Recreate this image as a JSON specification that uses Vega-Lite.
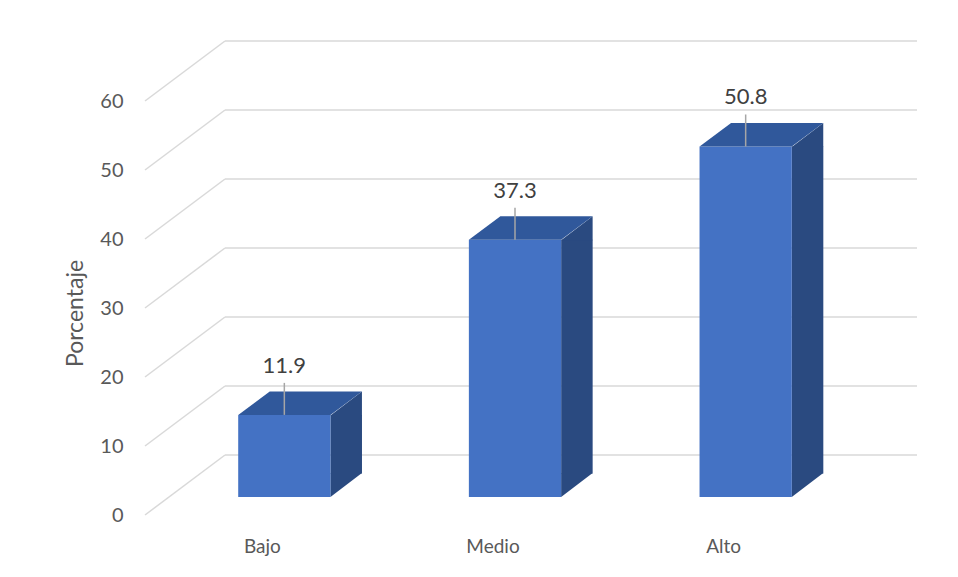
{
  "$schema": "https://vega.github.io/schema/vega-lite/v6.json",
  "width": 692,
  "height": 414,
  "autosize": {"type": "none"},
  "padding": {"left": 169, "top": 83, "right": 97, "bottom": 80},
  "background": "white",
  "config": {
    "view": {"stroke": null},
    "font": "Lato",
    "axis": {
      "labelFont": "Lato",
      "labelFontSize": 20,
      "labelColor": "#595959",
      "titleFont": "Lato",
      "titleFontSize": 23,
      "titleFontWeight": "normal",
      "titleColor": "#595959",
      "domain": false,
      "ticks": false,
      "tickSize": 0,
      "grid": false
    }
  },
  "datasets": {
    "niveles": [
      {"nivel": "Bajo", "porcentaje": 11.9},
      {"nivel": "Medio", "porcentaje": 37.3},
      {"nivel": "Alto", "porcentaje": 50.8}
    ],
    "marcas": [
      {"marca": 0}, {"marca": 10}, {"marca": 20}, {"marca": 30},
      {"marca": 40}, {"marca": 50}, {"marca": 60}
    ]
  },
  "layer": [
    {
      "data": {"name": "marcas"},
      "mark": {"type": "rule", "color": "#d9d9d9", "strokeWidth": 1.5, "xOffset": 56, "x2Offset": 56, "yOffset": -42},
      "encoding": {
        "x": {"datum": "Bajo", "bandPosition": 0, "type": "nominal", "scale": {"type": "band", "domain": ["Bajo", "Medio", "Alto"], "paddingInner": 0, "paddingOuter": 0}},
        "x2": {"datum": "Alto", "bandPosition": 1},
        "y": {
          "field": "marca",
          "type": "quantitative",
          "scale": {"domain": [0, 60], "nice": false, "zero": true},
          "axis": {
            "values": [0, 10, 20, 30, 40, 50, 60],
            "labelOffset": 18,
            "labelPadding": 46,
            "title": "Porcentaje",
            "titleAngle": -90,
            "titleX": -87,
            "titleY": 230,
            "titleAlign": "center",
            "titleBaseline": "alphabetic"
          }
        }
      }
    },
    {
      "data": {"name": "marcas"},
      "mark": {"type": "rule", "color": "#d9d9d9", "strokeWidth": 1.5, "xOffset": -24, "x2Offset": 56, "yOffset": 18, "y2Offset": -42},
      "encoding": {
        "x": {"datum": "Bajo", "bandPosition": 0, "type": "nominal"},
        "x2": {"datum": "Bajo", "bandPosition": 0},
        "y": {"field": "marca", "type": "quantitative"},
        "y2": {"field": "marca"}
      }
    },
    {
      "data": {"name": "niveles"},
      "layer": [
        {
          "mark": {"type": "bar", "color": "#2a4a80", "width": 31.5, "xOffset": 61.9, "y2Offset": -23.5},
          "encoding": {
            "x": {"field": "nivel", "type": "nominal", "sort": null},
            "y": {"field": "porcentaje", "type": "quantitative"},
            "y2": {"datum": 0}
          }
        },
        {
          "mark": {"type": "point", "shape": "M46.1,0.5L77.6,-23.5L77.6,0.5Z", "size": 4, "filled": true, "opacity": 1, "color": "#2a4a80", "strokeWidth": 0},
          "encoding": {
            "x": {"field": "nivel", "type": "nominal", "sort": null},
            "y": {"field": "porcentaje", "type": "quantitative"}
          }
        },
        {
          "mark": {"type": "point", "shape": "M46.1,-24L77.6,-24L46.1,0Z", "size": 4, "filled": true, "opacity": 1, "color": "#2a4a80", "strokeWidth": 0},
          "encoding": {
            "x": {"field": "nivel", "type": "nominal", "sort": null},
            "y": {"datum": 0, "type": "quantitative"}
          }
        },
        {
          "mark": {"type": "bar", "color": "#4472c4", "width": {"band": 0.4}},
          "encoding": {
            "x": {
              "field": "nivel",
              "type": "nominal",
              "sort": null,
              "axis": {"title": null, "labelAngle": 0, "labelAlign": "center", "labelOffset": -22, "labelPadding": 49, "labelFontSize": 19}
            },
            "y": {"field": "porcentaje", "type": "quantitative"}
          }
        },
        {
          "mark": {"type": "point", "shape": "M-46.1,0L46.1,0L77.6,-23.5L-14.6,-23.5Z", "size": 4, "filled": true, "opacity": 1, "color": "#30589b", "strokeWidth": 0},
          "encoding": {
            "x": {"field": "nivel", "type": "nominal", "sort": null},
            "y": {"field": "porcentaje", "type": "quantitative"}
          }
        },
        {
          "mark": {"type": "rule", "color": "#a6a6a6", "strokeWidth": 1.5, "y2Offset": -32},
          "encoding": {
            "x": {"field": "nivel", "type": "nominal", "sort": null},
            "y": {"field": "porcentaje", "type": "quantitative"},
            "y2": {"field": "porcentaje"}
          }
        },
        {
          "mark": {"type": "text", "dy": -42, "baseline": "alphabetic", "align": "center", "fontSize": 22, "font": "Lato", "color": "#404040"},
          "encoding": {
            "x": {"field": "nivel", "type": "nominal", "sort": null},
            "y": {"field": "porcentaje", "type": "quantitative"},
            "text": {"field": "porcentaje", "type": "quantitative", "format": ".1f"}
          }
        }
      ]
    }
  ]
}
